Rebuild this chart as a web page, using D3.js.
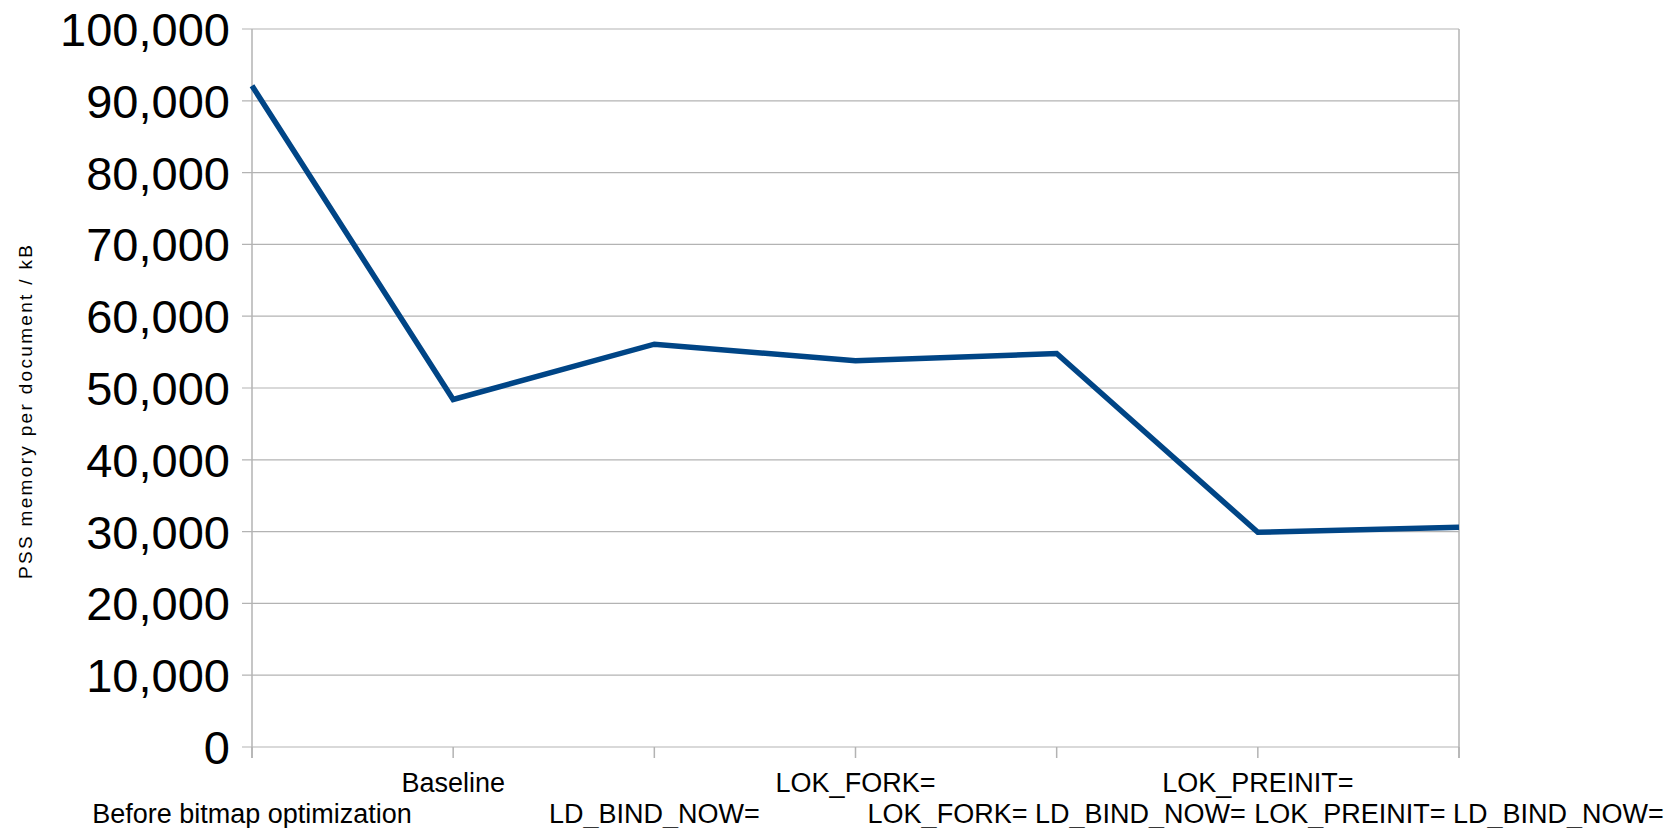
<!DOCTYPE html>
<html>
<head>
<meta charset="utf-8">
<script src="https://cdn.jsdelivr.net/npm/d3@7"></script>
<style>
  body { margin: 0; background: #fff; }
  svg { display: block; font-family: "Liberation Sans", Arial, sans-serif; }
</style>
</head>
<body>
<svg width="1668" height="828"></svg>
<script>
// categories as they appear (labels are cut in the original)
var categories = [
    "Before bitmap optimization",
    "Baseline",
    "LD_BIND_NOW=",
    "LOK_FORK=",
    "LOK_FORK= LD_BIND_NOW=",
    "LOK_PREINIT=",
    "LOK_PREINIT= LD_BIND_NOW="
];
var pssValues = [92100, 48400, 56100, 53800, 54800, 29900, 30600];
var yTicks = [0, 10000, 20000, 30000, 40000, 50000, 60000, 70000, 80000, 90000, 100000];
var yTitle = "PSS memory per document / kB";

var svg = d3.select("svg"),
    margin = { top: 29, right: 209, bottom: 81, left: 252 },
    width = +svg.attr("width") - margin.left - margin.right,
    height = +svg.attr("height") - margin.top - margin.bottom;

var x = d3.scalePoint().domain(categories).range([0, width]),
    y = d3.scaleLinear().domain([0, 100000]).range([height, 0]);

var g = svg.append("g")
    .attr("transform", "translate(" + margin.left + "," + margin.top + ")");

var grey = "#b3b3b3";

// horizontal gridlines + y ticks sticking out left
g.append("g")
    .selectAll("line")
    .data(yTicks)
    .enter().append("line")
    .attr("x1", -10)
    .attr("x2", width)
    .attr("y1", function (d) { return y(d); })
    .attr("y2", function (d) { return y(d); })
    .attr("stroke", grey)
    .attr("stroke-width", 1.2);

// y labels
g.append("g")
    .selectAll("text")
    .data(yTicks)
    .enter().append("text")
    .attr("x", -22)
    .attr("y", function (d) { return y(d); })
    .attr("dy", "0.36em")
    .attr("text-anchor", "end")
    .attr("font-size", 47)
    .attr("fill", "#000")
    .text(function (d) { return d3.format(",")(d); });

// left axis and right border
g.append("line")
    .attr("x1", 0).attr("x2", 0)
    .attr("y1", 0).attr("y2", height + 11)
    .attr("stroke", grey).attr("stroke-width", 1.5);
g.append("line")
    .attr("x1", width).attr("x2", width)
    .attr("y1", 0).attr("y2", height + 11)
    .attr("stroke", grey).attr("stroke-width", 1.5);

// x ticks
g.append("g")
    .selectAll("line")
    .data(categories)
    .enter().append("line")
    .attr("x1", function (d) { return x(d); })
    .attr("x2", function (d) { return x(d); })
    .attr("y1", height)
    .attr("y2", height + 11)
    .attr("stroke", grey)
    .attr("stroke-width", 1.5);

// staggered category labels
g.append("g")
    .selectAll("text")
    .data(categories)
    .enter().append("text")
    .attr("x", function (d) { return x(d); })
    .attr("y", function (d, i) { return i % 2 === 1 ? height + 45 : height + 76; })
    .attr("text-anchor", "middle")
    .attr("font-size", 27)
    .attr("fill", "#000")
    .text(function (d) { return d; });

// the line
var line = d3.line()
    .x(function (d, i) { return x(categories[i]); })
    .y(function (d) { return y(d); });

g.append("path")
    .datum(pssValues)
    .attr("fill", "none")
    .attr("stroke", "#004586")
    .attr("stroke-width", 5.5)
    .attr("stroke-linejoin", "miter")
    .attr("d", line);

// y axis title (wide letter spacing like the original)
svg.append("text")
    .attr("transform", "translate(32,412) rotate(-90)")
    .attr("text-anchor", "middle")
    .attr("font-size", 19)
    .attr("textLength", 334)
    .attr("lengthAdjust", "spacing")
    .attr("fill", "#000")
    .text(yTitle);
</script>
</body>
</html>
